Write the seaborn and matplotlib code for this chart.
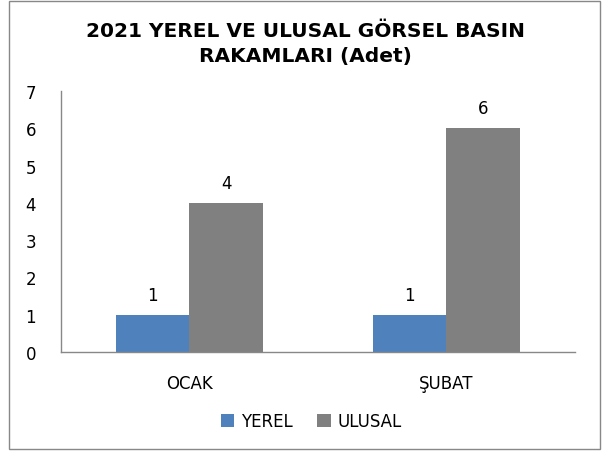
import matplotlib
matplotlib.use("Agg")
import matplotlib.pyplot as plt
import seaborn as sns
import pandas as pd
from matplotlib.patches import Rectangle

categories = ["OCAK", "ŞUBAT"]
series = ["YEREL", "ULUSAL"]
yerel = [1, 1]
ulusal = [4, 6]
colors = ["#4F81BD", "#808080"]

df = pd.DataFrame({
    "Ay": categories * 2,
    "Seri": ["YEREL"] * 2 + ["ULUSAL"] * 2,
    "Adet": yerel + ulusal,
})

sns.set_theme(style="white")
plt.rcParams['font.family'] = ['DejaVu Sans']
plt.rcParams['text.color'] = '#000000'

fig = plt.figure(figsize=(6.03, 4.52), dpi=100)
ax = fig.add_axes([0.101, 0.219, 0.852, 0.577])

sns.barplot(data=df, x="Ay", y="Adet", hue="Seri", hue_order=series,
            palette=colors, width=0.572, saturation=1, ax=ax, legend=True,
            linewidth=0)

for c in ax.containers:
    ax.bar_label(c, fmt="%d", padding=8, fontsize=12, color="#000000")

ax.set_ylim(0, 7)
ax.set_yticks(range(0, 8))
ax.set_xlabel("")
ax.set_ylabel("")
ax.tick_params(axis="y", pad=18, labelsize=12, length=0, labelcolor="#000000")
ax.tick_params(axis="x", pad=16, labelsize=12, length=0, labelcolor="#000000")
for s in ["top", "right"]:
    ax.spines[s].set_visible(False)
for s in ["left", "bottom"]:
    ax.spines[s].set_color("#888888")
    ax.spines[s].set_linewidth(1)

fig.suptitle("2021 YEREL VE ULUSAL GÖRSEL BASIN\nRAKAMLARI (Adet)",
             x=0.507, y=0.952, fontsize=14.5, fontweight="bold", linespacing=1.4,
             color="#000000")

leg = ax.legend(loc="center", bbox_to_anchor=(0.487, -0.265), ncol=2, frameon=False,
                fontsize=12, handlelength=0.8, handleheight=0.8, columnspacing=1.5,
                handletextpad=0.4, labelcolor="#000000")

fig.patches.append(Rectangle((0.015, 0.005), 0.98, 0.99, transform=fig.transFigure,
                             fill=False, edgecolor="#888888", linewidth=1))

fig.savefig("out.png", dpi=100)
